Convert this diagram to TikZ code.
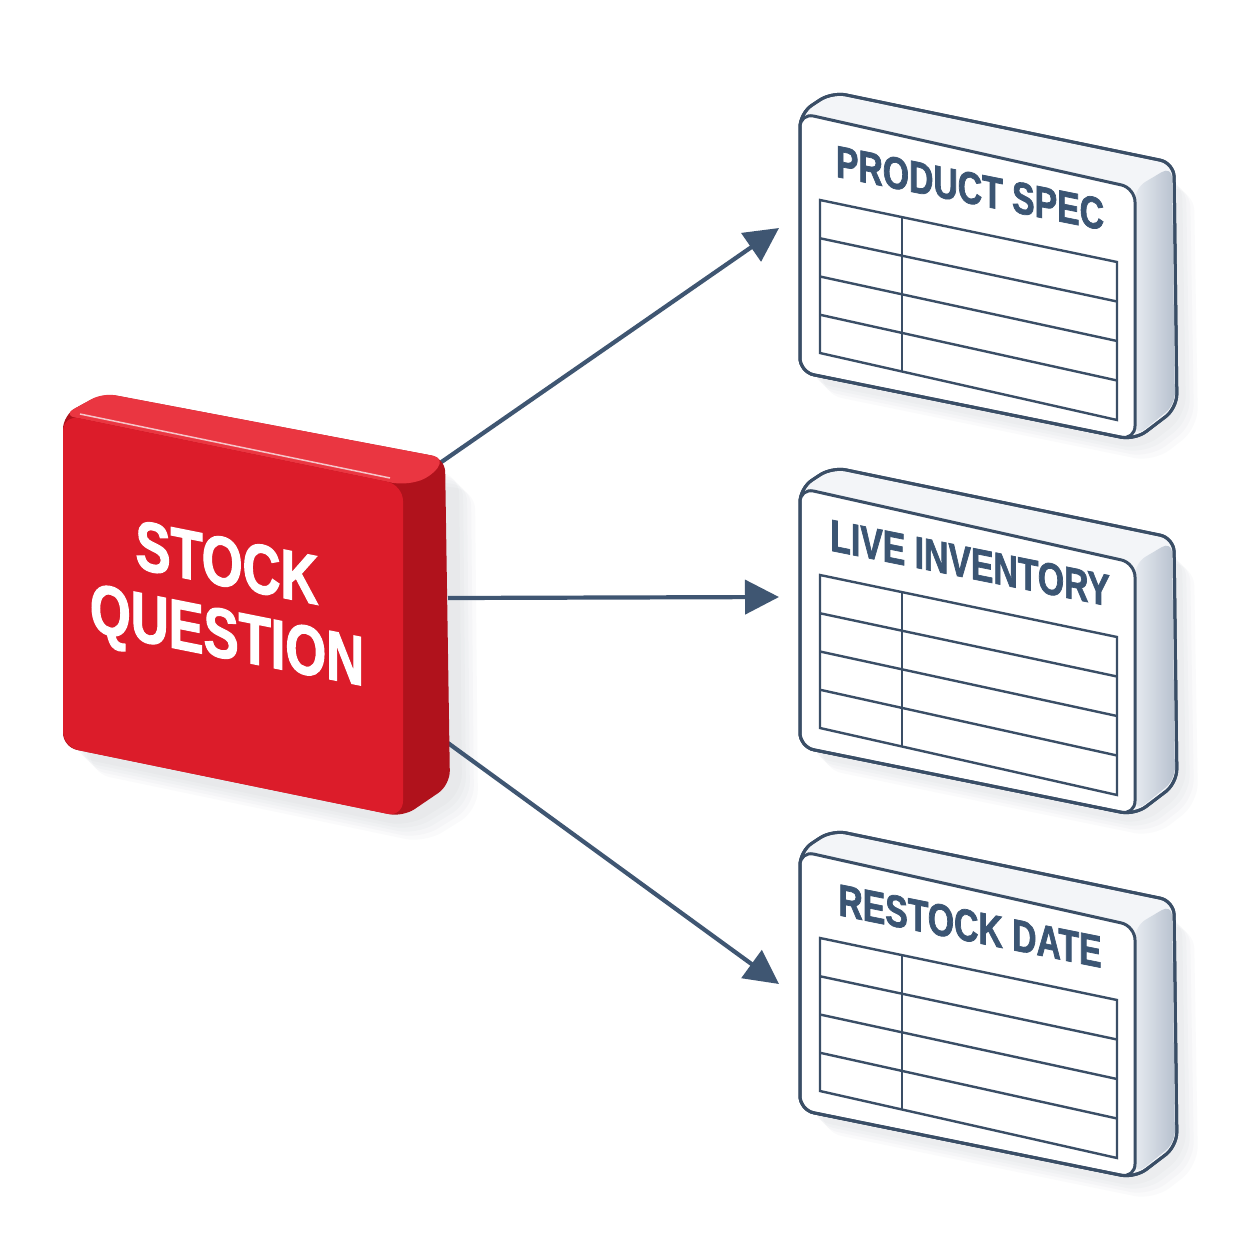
\documentclass[tikz,border=0pt]{standalone}
\usepackage{fontspec}
\setmainfont{Liberation Sans}
\newfontfamily\condfont{Liberation Sans Bold}[FakeStretch=0.75, FakeBold=1.6]
\usetikzlibrary{arrows.meta,calc}
\definecolor{slate}{HTML}{3A4E66}
\definecolor{slatetext}{HTML}{3B5573}
\definecolor{arrowc}{HTML}{3F5672}
\definecolor{redfront}{HTML}{DC1C2A}
\definecolor{redtop}{HTML}{EA3641}
\definecolor{redside}{HTML}{B0121C}
\definecolor{cardtop}{HTML}{F3F5F8}
\definecolor{cardside1}{HTML}{E6EAF0}
\definecolor{cardside2}{HTML}{B7C1CE}
\definecolor{shadowc}{HTML}{8A93A0}
\tikzset{
  conn/.style={draw=arrowc, line width=4.2pt, -{Triangle[length=34pt,width=34pt]}},
  cardline/.style={draw=slate, line width=3pt, line join=round},
  tabline/.style={draw=slate, line width=2.4pt},
  cardtitle/.style={text=slatetext, font=\condfont\fontsize{45}{48}\selectfont, inner sep=0pt, transform shape},
  redtitle/.style={text=white, font=\condfont\fontsize{70}{72}\selectfont, align=center, inner sep=0pt, transform shape},
  softshadow/.style={fill=shadowc, fill opacity=0.04, rounded corners=20pt},
}
\newcommand\drawcard[3]{%
\begin{scope}[shift={(0,#1)}]
  % soft shadow
  \foreach \s in {4,8,12,16}
    \fill[softshadow] (806+\s,125+\s) -- (1178+\s,175+\s) -- (1182+\s,412+\s) -- (1138+\s,446+\s) -- (806+\s,378+\s) -- cycle;
  % silhouette
  \filldraw[cardline, fill=cardtop, rounded corners=14pt]
    (800,113) -- (832,92) -- (1174,163) -- (1177,408) -- (1135,440) -- (800,372) -- cycle;
  % right face
  \shade[left color=cardside1, right color=cardside2, rounded corners=12pt]
    (1135,188) -- (1172,166) -- (1175,405) -- (1135,437) -- cycle;
  % front face
  \filldraw[cardline, fill=white, rounded corners=14pt]
    (800,113) -- (1135,188) -- (1135,440) -- (800,372) -- cycle;
  % outer outline again
  \draw[cardline, rounded corners=14pt]
    (800,113) -- (832,92) -- (1174,163) -- (1177,408) -- (1135,440) -- (800,372) -- cycle;
  % table
  \coordinate (#2T1) at (820,200);
  \coordinate (#2T2) at (1117,262);
  \coordinate (#2T3) at (1117,420);
  \coordinate (#2T4) at (820,353);
  \draw[tabline] (#2T1) -- (#2T2) -- (#2T3) -- (#2T4) -- cycle;
  \foreach \f in {0.25,0.5,0.75}
    \draw[tabline] ($(#2T1)!\f!(#2T4)$) -- ($(#2T2)!\f!(#2T3)$);
  \draw[tabline] ($(#2T1)!0.276!(#2T2)$) -- ($(#2T4)!0.276!(#2T3)$);
  \begin{scope}[shift={(970,188)}, yslant=-0.2]
    \node[cardtitle] (#2title) at (0,0) {#3};
  \end{scope}
\end{scope}}
\begin{document}
\begin{tikzpicture}[x=1pt,y=-1pt]
\fill[white] (0,0) rectangle (1254,1254);
\useasboundingbox (0,0) rectangle (1254,1254);

% connector end points
\coordinate (q1) at (440,463);
\coordinate (q2) at (448,598);
\coordinate (q3) at (448,743);
\coordinate (c1) at (779,228);
\coordinate (c2) at (779,597);
\coordinate (c3) at (779,984);

% red block shadow
\foreach \s in {4,8,12,16,20}
  \fill[softshadow] (70+\s,425+\s) -- (455+\s,470+\s) -- (458+\s,790+\s) -- (405+\s,823+\s) -- (70+\s,753+\s) -- cycle;

\draw[conn] (q1) -- (c1);
\draw[conn] (q2) -- (c2);
\draw[conn] (q3) -- (c3);

% red block
\fill[redside, rounded corners=14pt]
  (63,415) -- (103,393) -- (445,458) -- (450,785) -- (403,817) -- (63,747) -- cycle;
\fill[redtop, rounded corners=12pt]
  (63,415) -- (103,393) -- (445,458) -- (430,478) -- (403,485) -- cycle;
\fill[redfront, rounded corners=16pt]
  (63,415) -- (403,485) -- (403,817) -- (63,747) -- cycle;
\draw[white!75!redfront, line width=1.5pt] (80,414) -- (390,478);
\begin{scope}[shift={(227,605)}, yslant=-0.2]
  \node[redtitle] (question) at (0,0) {STOCK\\QUESTION};
\end{scope}

\drawcard{0}{a}{PRODUCT SPEC}
\drawcard{375}{b}{LIVE INVENTORY}
\drawcard{738}{c}{RESTOCK DATE}
\end{tikzpicture}
\end{document}
